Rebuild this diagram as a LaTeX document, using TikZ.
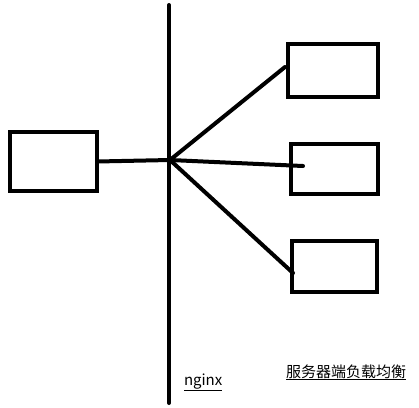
\documentclass[tikz,border=0pt]{standalone}
\usepackage{fontspec}
\newfontfamily\cjk{Noto Sans CJK SC}
\begin{document}
\begin{tikzpicture}[x=1pt, y=-1pt, line width=4pt, line cap=round, box node/.style={rectangle,draw,line width=4pt,inner sep=0pt,outer sep=0pt}, label node/.style={font=\cjk\fontsize{15}{17}\selectfont,inner sep=0pt}]%
\useasboundingbox (0,0) rectangle (419,407);
\begin{scope}
\node[box node, minimum width=87pt, minimum height=59pt] (client) at (53.5,161.5) {};
\node[box node, minimum width=90pt, minimum height=53pt] (s1) at (333,70.5) {};
\node[box node, minimum width=87pt, minimum height=50pt] (s2) at (334.5,169) {};
\node[box node, minimum width=85pt, minimum height=51pt] (s3) at (334.5,266.5) {};
\coordinate (top) at (169,5);
\coordinate (bottom) at (169,403);
\coordinate (hub) at (170,160);
\coordinate (e1) at (285,67);
\coordinate (e2) at (303,166);
\coordinate (e3) at (293,273);
\end{scope}
\begin{scope}
\draw (top) -- (bottom);
\draw (client.east) -- (hub);
\draw (hub) -- (e1);
\draw (hub) -- (e2);
\draw (hub) -- (e3);
%\draw (hub) -- (s);
\end{scope}
\node[label node, anchor=base west] (nginx) at (182,385) {\underline{nginx}};
\node[label node, anchor=base west] (lb) at (284,377) {\underline{服务器端负载均衡}};
\end{tikzpicture}
\end{document}
